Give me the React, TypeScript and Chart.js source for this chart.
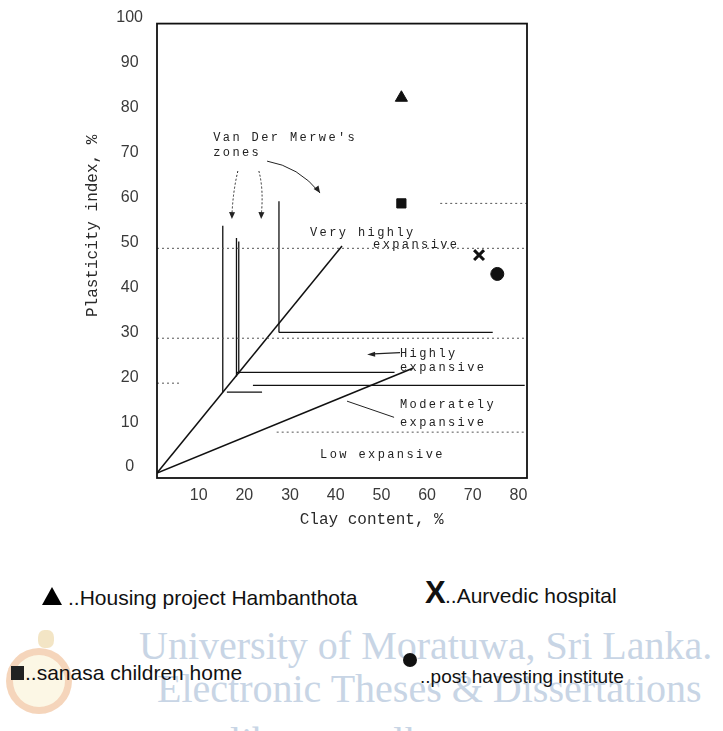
import { useEffect, useRef } from "react";
import { Chart, registerables } from "chart.js";

Chart.register(...registerables);

// ---- axes ----
const X_TICKS = [10, 20, 30, 40, 50, 60, 70, 80];
const Y_TICKS = [0, 10, 20, 30, 40, 50, 60, 70, 80, 90, 100];
const X_TITLE = "Clay content, %";
const Y_TITLE = "Plasticity index, %";

// ---- sites tested ----
const SITES = [
  "Housing project Hambanthota",
  "sanasa children home",
  "Aurvedic hospital",
  "post havesting institute",
];
const CLAY_CONTENT = [53.5, 53.5, 70.5, 74.5];
const PLASTICITY_INDEX = [83.5, 60, 48.5, 44.3];
const SITE_MARKERS = ["triangle", "rect", "crossRot", "circle"];

// ---- Van Der Merwe zone boundaries (clay %, PI %) ----
const STEEP_BOUNDARY = [[0, 0], [40.5, 50.5]];
const SHALLOW_BOUNDARY = [[0, 0], [56, 23.3]];
// [clay, PI from, PI to]
const ZONE_VERTICALS = [
  [14.4, 18, 55],
  [17.4, 21.5, 52.3],
  [17.9, 22.1, 51.5],
  [26.7, 31.3, 60.5],
];
// [PI, clay from, clay to]
const ZONE_HORIZONTALS = [
  [31.3, 26.7, 73.5],
  [22.4, 17.5, 52],
  [19.5, 21, 80.5],
  [18, 15.3, 23],
];
// dotted reference levels [PI, clay from, clay to]
const DOTTED_LEVELS = [
  [60, 62, 81],
  [50, 0, 81],
  [30, 0, 81],
  [20, 0, 5],
  [9.1, 26.2, 80.5],
];

const ZONE_NAMES = {
  merwe: ["Van Der Merwe's", "zones"],
  veryHigh: ["Very highly", "expansive"],
  high: ["Highly", "expansive"],
  moderate: ["Moderately", "expansive"],
  low: ["Low expansive"],
};

const INK = "#111";
const MONO = '"Liberation Mono", "DejaVu Sans Mono", monospace';
const SANS = '"Liberation Sans", Arial, sans-serif';

function seg(pts: number[][]) {
  return pts.map(([x, y]) => ({ x, y }));
}

function spacedText(ctx: CanvasRenderingContext2D, text: string, x: number, y: number, pitch: number) {
  for (let i = 0; i < text.length; i++) ctx.fillText(text[i], x + i * pitch, y);
}

function arrowHead(ctx: CanvasRenderingContext2D, fx: number, fy: number, tx: number, ty: number, len = 7, half = 3) {
  const a = Math.atan2(ty - fy, tx - fx);
  ctx.beginPath();
  ctx.moveTo(tx, ty);
  ctx.lineTo(tx - len * Math.cos(a) + half * Math.sin(a), ty - len * Math.sin(a) - half * Math.cos(a));
  ctx.lineTo(tx - len * Math.cos(a) - half * Math.sin(a), ty - len * Math.sin(a) + half * Math.cos(a));
  ctx.closePath();
  ctx.fill();
}

const overlayPlugin = {
  id: "merweOverlay",
  afterDraw(chart: any) {
    const { ctx, chartArea: a, scales } = chart;
    const px = (v: number) => scales.x.getPixelForValue(v);
    const py = (v: number) => scales.y.getPixelForValue(v);
    ctx.save();

    // plot frame
    ctx.strokeStyle = INK;
    ctx.lineWidth = 1.8;
    ctx.strokeRect(a.left, a.top, a.right - a.left, a.bottom - a.top);

    // axis titles
    ctx.fillStyle = "#2a2a2a";
    ctx.font = `16px ${MONO}`;
    ctx.textAlign = "center";
    ctx.textBaseline = "middle";
    ctx.fillText(X_TITLE, px(47), a.bottom + 42);
    ctx.save();
    ctx.translate(a.left - 64, py(55));
    ctx.rotate(-Math.PI / 2);
    ctx.fillText(Y_TITLE, 0, 0);
    ctx.restore();

    // zone names
    ctx.font = `12px ${MONO}`;
    ctx.textAlign = "left";
    ctx.fillStyle = "#222";
    const pitch = 9.6;
    spacedText(ctx, ZONE_NAMES.merwe[0], px(12.3), py(74.5), pitch);
    spacedText(ctx, ZONE_NAMES.merwe[1], px(12.3), py(71.2), pitch);
    spacedText(ctx, ZONE_NAMES.veryHigh[0], px(33.5), py(53.4), pitch);
    spacedText(ctx, ZONE_NAMES.veryHigh[1], px(47.3), py(50.8), pitch);
    spacedText(ctx, ZONE_NAMES.high[0], px(53.2), py(26.6), pitch);
    spacedText(ctx, ZONE_NAMES.high[1], px(53.2), py(23.5), pitch);
    spacedText(ctx, ZONE_NAMES.moderate[0], px(53.2), py(15.1), pitch);
    spacedText(ctx, ZONE_NAMES.moderate[1], px(53.2), py(11.1), pitch);
    spacedText(ctx, ZONE_NAMES.low[0], px(35.7), py(4), pitch);

    // pointers
    ctx.strokeStyle = "#222";
    ctx.fillStyle = "#222";
    ctx.lineWidth = 1;
    // curved pointer to the right-hand zone
    ctx.beginPath();
    ctx.moveTo(px(24.1), py(69.4));
    ctx.quadraticCurveTo(px(31), py(68.2), px(35.7), py(62.3));
    ctx.stroke();
    arrowHead(ctx, px(33.5), py(65.5), px(35.7), py(62.3));
    // dashed pointers to the left-hand zones
    ctx.setLineDash([2, 2]);
    ctx.beginPath();
    ctx.moveTo(px(17.7), py(67.2));
    ctx.quadraticCurveTo(px(16.6), py(62.5), px(16.4), py(57.2));
    ctx.moveTo(px(22.3), py(67.2));
    ctx.quadraticCurveTo(px(23.4), py(63), px(22.8), py(57.2));
    ctx.stroke();
    ctx.setLineDash([]);
    arrowHead(ctx, px(16.45), py(59), px(16.4), py(56.5));
    arrowHead(ctx, px(22.9), py(59), px(22.8), py(56.5));
    // "Highly" pointer
    ctx.lineWidth = 1.2;
    ctx.beginPath();
    ctx.moveTo(px(53.2), py(26.8));
    ctx.lineTo(px(47.5), py(26.5));
    ctx.stroke();
    arrowHead(ctx, px(49), py(26.5), px(46), py(26.4), 8, 2.5);
    // "Moderately" leader
    ctx.lineWidth = 1;
    ctx.beginPath();
    ctx.moveTo(px(41.6), py(16));
    ctx.lineTo(px(51.9), py(12.4));
    ctx.stroke();

    ctx.restore();
  },
};

function boundaryDataset(pts: number[][], width: number, dash: number[] = []) {
  return {
    data: seg(pts),
    showLine: true,
    borderColor: dash.length ? "#555" : INK,
    borderWidth: width,
    borderDash: dash,
    pointRadius: 0,
    pointHoverRadius: 0,
    tension: 0,
  };
}

function ChartView() {
  const ref = useRef<HTMLCanvasElement | null>(null);

  useEffect(() => {
    if (!ref.current) return;
    const datasets: any[] = [];
    DOTTED_LEVELS.forEach(([y, x0, x1]) => datasets.push(boundaryDataset([[x0, y], [x1, y]], 1, [2, 3])));
    datasets.push(boundaryDataset(STEEP_BOUNDARY, 1.5));
    datasets.push(boundaryDataset(SHALLOW_BOUNDARY, 1.7));
    ZONE_VERTICALS.forEach(([x, y0, y1]) => datasets.push(boundaryDataset([[x, y0], [x, y1]], 1.3)));
    ZONE_HORIZONTALS.forEach(([y, x0, x1]) => datasets.push(boundaryDataset([[x0, y], [x1, y]], 1.3)));
    SITES.forEach((name, i) => {
      const marker = SITE_MARKERS[i];
      datasets.push({
        label: name,
        data: [{ x: CLAY_CONTENT[i], y: PLASTICITY_INDEX[i] }],
        pointStyle: marker,
        pointRadius: marker === "crossRot" ? 7 : marker === "triangle" ? 7 : 6.5,
        pointBorderWidth: marker === "crossRot" ? 3 : 1,
        pointBackgroundColor: INK,
        pointBorderColor: INK,
        showLine: false,
      });
    });

    const tickFont = { family: SANS, size: 16 };
    const chart = new Chart(ref.current, {
      type: "scatter",
      data: { datasets },
      options: {
        animation: false,
        responsive: false,
        maintainAspectRatio: false,
        layout: { padding: { left: 0, top: 22, right: 196, bottom: 0 } },
        plugins: {
          legend: { display: false },
          tooltip: { enabled: false },
          title: { display: false },
        },
        scales: {
          x: {
            type: "linear",
            min: 0,
            max: 81,
            afterFit: (s: any) => {
              s.height = 67;
            },
            afterBuildTicks: (axis: any) => {
              axis.ticks = X_TICKS.map((v) => ({ value: v }));
            },
            grid: { display: false, drawTicks: false },
            border: { display: false },
            ticks: {
              font: tickFont,
              color: "#3a3a3a",
              padding: 8,
              labelOffset: -4,
              maxRotation: 0,
              autoSkip: false,
            },
          },
          y: {
            type: "linear",
            min: -1.1,
            max: 100,
            afterFit: (s: any) => {
              s.width = 157;
            },
            afterBuildTicks: (axis: any) => {
              axis.ticks = Y_TICKS.map((v) => ({ value: v }));
            },
            grid: { display: false, drawTicks: false },
            border: { display: false },
            ticks: {
              font: tickFont,
              color: "#3a3a3a",
              padding: 14,
              crossAlign: "center",
              labelOffset: -6,
              autoSkip: false,
            },
          },
        },
      } as any,
      plugins: [overlayPlugin],
    });
    return () => chart.destroy();
  }, []);

  return <canvas ref={ref} width={723} height={545} style={{ display: "block", position: "absolute", left: 0, top: 0 }} />;
}

const legendText: React.CSSProperties = {
  position: "absolute",
  fontFamily: SANS,
  fontSize: 21,
  lineHeight: "21px",
  color: "#111",
  whiteSpace: "nowrap",
};

const watermark: React.CSSProperties = {
  position: "absolute",
  fontFamily: '"Liberation Serif", "DejaVu Serif", serif',
  fontSize: 40,
  lineHeight: "40px",
  color: "#c8d5e5",
  whiteSpace: "nowrap",
};

export default function App() {
  return (
    <div
      style={{
        position: "absolute",
        left: 0,
        top: 0,
        width: 723,
        height: 731,
        overflow: "hidden",
        background: "#fff",
      }}
    >
      <ChartView />

      {/* repository watermark */}
      <div
        style={{
          position: "absolute",
          left: 6,
          top: 648,
          width: 52,
          height: 52,
          borderRadius: "50%",
          border: "7px solid rgba(232,150,110,0.35)",
          background: "rgba(245,222,150,0.25)",
        }}
      />
      <div
        style={{
          position: "absolute",
          left: 38,
          top: 630,
          width: 16,
          height: 18,
          borderRadius: "40%",
          background: "rgba(220,180,90,0.35)",
        }}
      />
      <div style={{ ...watermark, left: 139, top: 626 }}>University of Moratuwa, Sri Lanka.</div>
      <div style={{ ...watermark, left: 157, top: 669 }}>Electronic Theses &amp; Dissertations</div>
      <div style={{ ...watermark, left: 136, top: 722 }}>www.lib.mrt.ac.lk</div>

      {/* key to site markers */}
      <div
        style={{
          position: "absolute",
          left: 42,
          top: 587,
          width: 0,
          height: 0,
          borderLeft: "10px solid transparent",
          borderRight: "10px solid transparent",
          borderBottom: "18px solid #000",
        }}
      />
      <div style={{ ...legendText, left: 68, top: 587 }}>..{SITES[0]}</div>

      <div style={{ ...legendText, left: 425, top: 577, fontSize: 31, lineHeight: "31px", fontWeight: 700 }}>X</div>
      <div style={{ ...legendText, left: 445, top: 585 }}>..{SITES[2]}</div>

      <div style={{ position: "absolute", left: 11, top: 666, width: 13, height: 14, background: "#222" }} />
      <div style={{ ...legendText, left: 25, top: 662 }}>..{SITES[1]}</div>

      <div
        style={{
          position: "absolute",
          left: 403,
          top: 653,
          width: 14,
          height: 14,
          borderRadius: "50%",
          background: "#111",
        }}
      />
      <div style={{ ...legendText, left: 420, top: 667, fontSize: 19, lineHeight: "19px" }}>..{SITES[3]}</div>
    </div>
  );
}
